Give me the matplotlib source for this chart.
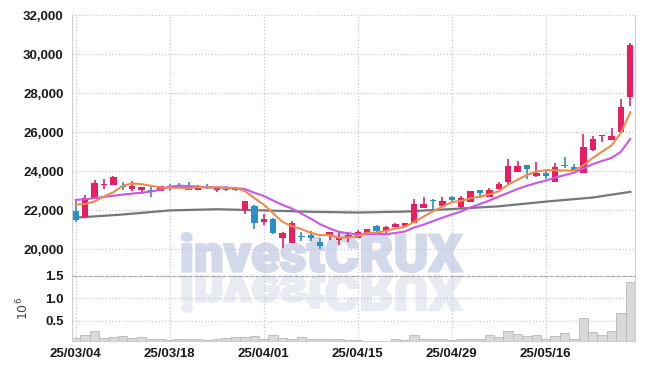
import matplotlib
matplotlib.use("Agg")
import matplotlib.pyplot as plt
import matplotlib.transforms as mtransforms
from matplotlib.textpath import TextPath
from matplotlib.patches import PathPatch
from matplotlib.font_manager import FontProperties
from matplotlib.ticker import FuncFormatter
import numpy as np
import pandas as pd

# daily candles, 25/03/04 .. 25/05/29 (trading days only)
opens = [21950, 21650, 22550, 23270, 23300, 23220, 23100, 23060, 23060, 23000,
         23230, 23250, 23210, 23050, 23220, 23060, 23110, 23060, 22000, 22220,
         21420, 21550, 20570, 20340, 20680, 20730, 20390, 20720, 20480, 20570,
         20570, 20850, 21210, 20910, 21160, 21170, 21370, 22120, 22500, 22240,
         22700, 22190, 22440, 23040, 22700, 23090, 23420, 23980, 24320, 23730,
         23900, 23470, 24300, 24200, 23930, 25060, 25780, 25610, 26000, 27780]
highs = [22450, 22800, 23550, 23600, 23750, 23450, 23500, 23200, 23220, 23260,
         23350, 23370, 23420, 23270, 23330, 23210, 23230, 23150, 22460, 22250,
         21800, 21600, 20870, 21470, 20900, 20950, 20580, 20900, 20820, 20900,
         21000, 21060, 21220, 21200, 21320, 21350, 22560, 22660, 22600, 22700,
         22750, 22720, 23000, 23060, 23160, 23470, 24620, 24500, 24330, 24490,
         24000, 24440, 24720, 24370, 25910, 25780, 25870, 26200, 27690, 30570]
lows = [21400, 21600, 22550, 23100, 23300, 23050, 22980, 22830, 22700, 22990,
        23000, 23150, 23050, 23030, 23100, 22920, 22980, 22960, 21800, 21050,
        21250, 20800, 20050, 20300, 20400, 20440, 20010, 20480, 20230, 20350,
        20560, 20840, 20900, 20850, 21150, 21150, 21350, 22110, 21980, 22230,
        22400, 22100, 22430, 22620, 22690, 23080, 23350, 23950, 23600, 23720,
        23620, 23460, 24150, 24020, 23920, 25050, 25490, 25600, 26000, 27350]
closes = [21500, 22650, 23400, 23360, 23700, 23180, 23230, 23190, 22980, 23250,
          23130, 23200, 23060, 23260, 23180, 23200, 23050, 23030, 22450, 21370,
          21550, 20820, 20820, 21360, 20630, 20600, 20180, 20890, 20650, 20730,
          20900, 21050, 20910, 21130, 21300, 21330, 22300, 22310, 22460, 22480,
          22530, 22610, 22990, 22870, 23040, 23350, 24270, 24270, 24100, 23900,
          23730, 24220, 24250, 24030, 25230, 25640, 25860, 25810, 27280, 30480]
# volume in millions of shares
volumes = [0.12, 0.17, 0.28, 0.11, 0.13, 0.15, 0.11, 0.13, 0.09, 0.08,
           0.06, 0.08, 0.09, 0.10, 0.075, 0.09, 0.11, 0.13, 0.13, 0.15,
           0.10, 0.17, 0.12, 0.10, 0.13, 0.10, 0.10, 0.08, 0.08, 0.06,
           0.06, 0.05, 0.05, 0.045, 0.08, 0.06, 0.17, 0.10, 0.10, 0.08,
           0.075, 0.08, 0.10, 0.10, 0.17, 0.13, 0.28, 0.20, 0.16, 0.17,
           0.10, 0.15, 0.22, 0.09, 0.55, 0.25, 0.18, 0.28, 0.67, 1.36]

# moving average values before enough days are on the chart
ma5_head = [22300, 22320, 22450, 22700]
ma10_head = [22530, 22560, 22620, 22680, 22740, 22800, 22850, 22900, 22960]
# long moving average (grey), read every 5 days
ma_long_idx = [0, 5, 10, 15, 20, 25, 30, 35, 40, 45, 50, 55, 59]
ma_long = [21620, 21780, 21990, 22050, 21990, 21920, 21880, 21930, 22060,
           22200, 22440, 22650, 22940]

tick_idx = [0, 10, 20, 30, 40, 50]
tick_labels = ['25/03/04', '25/03/18', '25/04/01', '25/04/15', '25/04/29', '25/05/16']

up_col = '#e81e63'
down_col = '#2b90c6'
grid_col = '#c5c8dc'
font = ['Liberation Sans', 'DejaVu Sans']

x = np.arange(len(closes))
o = np.array(opens)
c = np.array(closes)
s = pd.Series(closes, dtype=float)
ma5 = s.rolling(5).mean().to_numpy()
ma5[:4] = ma5_head
ma10 = s.rolling(10).mean().to_numpy()
ma10[:9] = ma10_head

fig = plt.figure(figsize=(6.45, 3.7), dpi=100)
fig.patch.set_facecolor('white')
ax = fig.add_axes([72/645, 1-276/370, 563/645, 261/370])
axv = fig.add_axes([72/645, 1-341/370, 563/645, 65/370], sharex=ax)
for a in (ax, axv):
    a.set_facecolor('none')

# watermark with reflection (pixel coordinates)
fp = FontProperties(family='Roboto', weight='black')
tp = TextPath((0, 0), 'investCRUX', size=100, prop=fp)
ext = tp.get_extents()
sx = 280 / ext.width
sy = 38.5 / ext.y1
t_main = mtransforms.Affine2D().translate(-ext.x0, 0).scale(sx, sy).translate(182, 370-271.5)
t_refl = mtransforms.Affine2D().translate(-ext.x0, 0).scale(sx, -sy*0.92).translate(182, 370-276.3)
pix = mtransforms.IdentityTransform()
fig.add_artist(PathPatch(t_main.transform_path(tp), facecolor='#d3d8ea', edgecolor='#d3d8ea',
                         linewidth=1.6, transform=pix, zorder=-1))
fig.add_artist(PathPatch(t_refl.transform_path(tp), facecolor='#e9ebf2', edgecolor='#e9ebf2',
                         linewidth=1.6, transform=pix, zorder=-1))

# candles
cols = [up_col if cc >= oo else down_col for oo, cc in zip(o, c)]
ax.vlines(x, lows, highs, colors=cols, linewidth=1.2, zorder=3)
body = np.maximum(np.abs(c - o), 60)
ax.bar(x, body, bottom=np.minimum(o, c), width=0.68, color=cols, zorder=4)

ax.plot(ma_long_idx, ma_long, color='#777777', linewidth=1.6, zorder=2)
ax.plot(x, ma10, color='#c857e8', linewidth=1.5, zorder=5)
ax.plot(x, ma5, color='#f08a4b', linewidth=1.5, zorder=5)

ax.set_ylim(18630, 32000)
ax.set_yticks(range(20000, 32001, 2000))
ax.yaxis.set_major_formatter(FuncFormatter(lambda v, p: f'{int(v):,}'))
ax.set_xlim(-0.4, 59.5)

# volume
axv.bar(x, volumes, width=1.0, color='#d9d9d9', edgecolor='#b8b8b8', linewidth=0.6, zorder=2)
axv.set_ylim(0.045, 1.5)
axv.set_yticks([0.5, 1.0, 1.5])
axv.set_yticklabels(['0.5', '1.0', '1.5'])
axv.set_ylabel(r'$10^{6}$', color='#444444', fontsize=9, labelpad=10)
axv.set_xticks(tick_idx)
axv.set_xticklabels(tick_labels)

for a in (ax, axv):
    a.grid(True, color=grid_col, linestyle=':', linewidth=0.9)
    a.set_axisbelow(True)
    a.tick_params(length=0, labelsize=9.5, labelcolor='#1a1a1a', pad=6)
    for lab in a.get_xticklabels() + a.get_yticklabels():
        lab.set_family(font)
        lab.set_fontweight('bold')
    a.spines['left'].set_color('#cfcfcf')
    a.spines['right'].set_color('#cfcfcf')
ax.tick_params(axis='x', labelbottom=False)
ax.spines['top'].set_visible(False)
ax.spines['bottom'].set_color('#9a9a9a')
ax.spines['bottom'].set_linestyle((0, (3, 2)))
ax.spines['bottom'].set_linewidth(0.8)
axv.spines['top'].set_visible(False)
axv.spines['bottom'].set_color('#cfcfcf')
axv.tick_params(axis='x', pad=5)

fig.savefig('out.png', dpi=100)
